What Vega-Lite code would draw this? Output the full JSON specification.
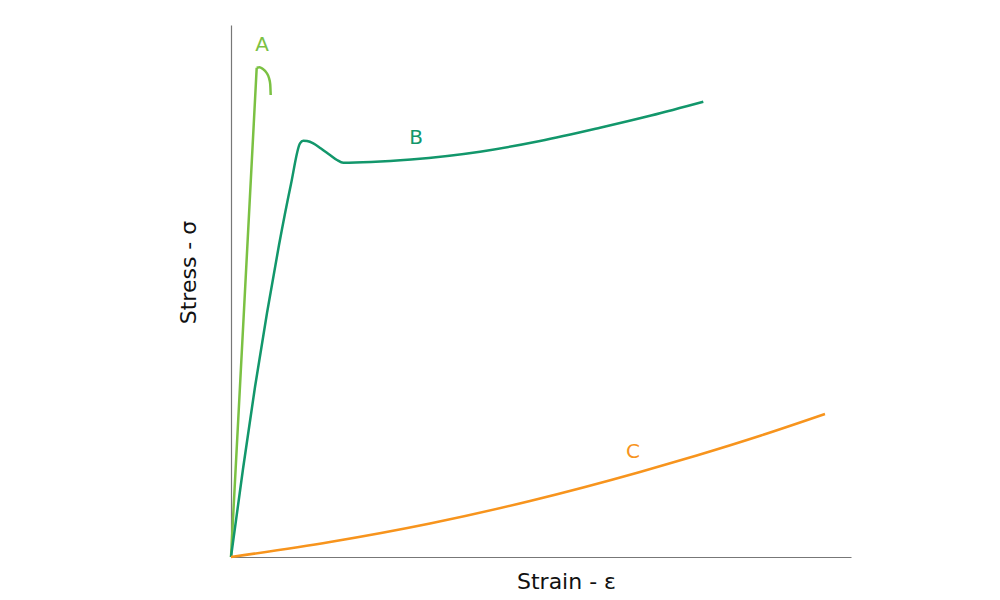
{
  "$schema": "https://vega.github.io/schema/vega-lite/v6.json",
  "width": 620,
  "height": 532,
  "autosize": {"type": "none"},
  "padding": {"left": 231, "top": 25, "right": 149, "bottom": 43},
  "background": "white",
  "config": {"view": {"stroke": null}},
  "datasets": {
    "curves": [
      {"s": "A", "seg": "A1", "i": 0, "x": 0, "y": 0},
      {"s": "A", "seg": "A1", "i": 1, "x": 13, "y": 247},
      {"s": "A", "seg": "A1", "i": 2, "x": 25.7, "y": 489.3},
      {"s": "A", "seg": "A2", "i": 3, "x": 25.7, "y": 489.3},
      {"s": "A", "seg": "A2", "i": 4, "x": 28.5, "y": 489.8},
      {"s": "A", "seg": "A2", "i": 5, "x": 31.5, "y": 488.3},
      {"s": "A", "seg": "A2", "i": 6, "x": 35.7, "y": 484},
      {"s": "A", "seg": "A2", "i": 7, "x": 38, "y": 479},
      {"s": "A", "seg": "A2", "i": 8, "x": 39.2, "y": 473},
      {"s": "A", "seg": "A2", "i": 9, "x": 39.7, "y": 462},
      {"s": "B", "seg": "B", "i": 0, "x": 0, "y": 0},
      {"s": "B", "seg": "B", "i": 1, "x": 12, "y": 88},
      {"s": "B", "seg": "B", "i": 2, "x": 24, "y": 170},
      {"s": "B", "seg": "B", "i": 3, "x": 36, "y": 244},
      {"s": "B", "seg": "B", "i": 4, "x": 48, "y": 312},
      {"s": "B", "seg": "B", "i": 5, "x": 60, "y": 373},
      {"s": "B", "seg": "B", "i": 6, "x": 69, "y": 413.7},
      {"s": "B", "seg": "B", "i": 7, "x": 72.3, "y": 416.3},
      {"s": "B", "seg": "B", "i": 8, "x": 76, "y": 416},
      {"s": "B", "seg": "B", "i": 9, "x": 82.3, "y": 413.7},
      {"s": "B", "seg": "B", "i": 10, "x": 90, "y": 408.5},
      {"s": "B", "seg": "B", "i": 11, "x": 99, "y": 402},
      {"s": "B", "seg": "B", "i": 12, "x": 106, "y": 397},
      {"s": "B", "seg": "B", "i": 13, "x": 112.3, "y": 394.3},
      {"s": "B", "seg": "B", "i": 14, "x": 140, "y": 395},
      {"s": "B", "seg": "B", "i": 15, "x": 180, "y": 397.5},
      {"s": "B", "seg": "B", "i": 16, "x": 249, "y": 405.3},
      {"s": "B", "seg": "B", "i": 17, "x": 309, "y": 416},
      {"s": "B", "seg": "B", "i": 18, "x": 369, "y": 429.3},
      {"s": "B", "seg": "B", "i": 19, "x": 420, "y": 441.5},
      {"s": "B", "seg": "B", "i": 20, "x": 472.3, "y": 455.3},
      {"s": "C", "seg": "C", "i": 0, "x": 0, "y": 0},
      {"s": "C", "seg": "C", "i": 1, "x": 99, "y": 15},
      {"s": "C", "seg": "C", "i": 2, "x": 199, "y": 33.5},
      {"s": "C", "seg": "C", "i": 3, "x": 299, "y": 56},
      {"s": "C", "seg": "C", "i": 4, "x": 409, "y": 85},
      {"s": "C", "seg": "C", "i": 5, "x": 465.7, "y": 101.5},
      {"s": "C", "seg": "C", "i": 6, "x": 530, "y": 121.5},
      {"s": "C", "seg": "C", "i": 7, "x": 594, "y": 143}
    ],
    "labels": [
      {"s": "A", "x": 31, "y": 512},
      {"s": "B", "x": 185, "y": 419},
      {"s": "C", "x": 402, "y": 105}
    ]
  },
  "layer": [
    {
      "data": {"name": "curves"},
      "mark": {"type": "line", "interpolate": "monotone", "strokeWidth": 2.5},
      "encoding": {
        "x": {
          "field": "x", "type": "quantitative",
          "scale": {"domain": [0, 620], "nice": false, "zero": false},
          "axis": {
            "title": "Strain - ε", "grid": false, "ticks": false, "labels": false,
            "domainColor": "#777777", "domainWidth": 1.2,
            "titleFont": "DejaVu Sans", "titleFontSize": 22, "titleFontWeight": "normal",
            "titleColor": "#111111", "titleBaseline": "alphabetic",
            "titleX": 335, "titleY": 31, "titleAnchor": "middle"
          }
        },
        "y": {
          "field": "y", "type": "quantitative",
          "scale": {"domain": [0, 532], "nice": false, "zero": false},
          "axis": {
            "title": "Stress - σ", "grid": false, "ticks": false, "labels": false,
            "domainColor": "#777777", "domainWidth": 1.2,
            "titleFont": "DejaVu Sans", "titleFontSize": 22, "titleFontWeight": "normal",
            "titleColor": "#111111", "titleBaseline": "alphabetic",
            "titleX": -36, "titleY": 247, "titleAnchor": "middle"
          }
        },
        "order": {"field": "i", "type": "quantitative"},
        "detail": {"field": "seg", "type": "nominal"},
        "color": {
          "field": "s", "type": "nominal",
          "scale": {"domain": ["A", "B", "C"], "range": ["#7bc143", "#12976b", "#f7941d"]},
          "legend": null
        }
      }
    },
    {
      "data": {"name": "labels"},
      "mark": {"type": "text", "font": "DejaVu Sans", "fontSize": 20, "baseline": "middle", "align": "center"},
      "encoding": {
        "x": {"field": "x", "type": "quantitative"},
        "y": {"field": "y", "type": "quantitative"},
        "text": {"field": "s"},
        "color": {"field": "s", "type": "nominal", "legend": null}
      }
    }
  ]
}
